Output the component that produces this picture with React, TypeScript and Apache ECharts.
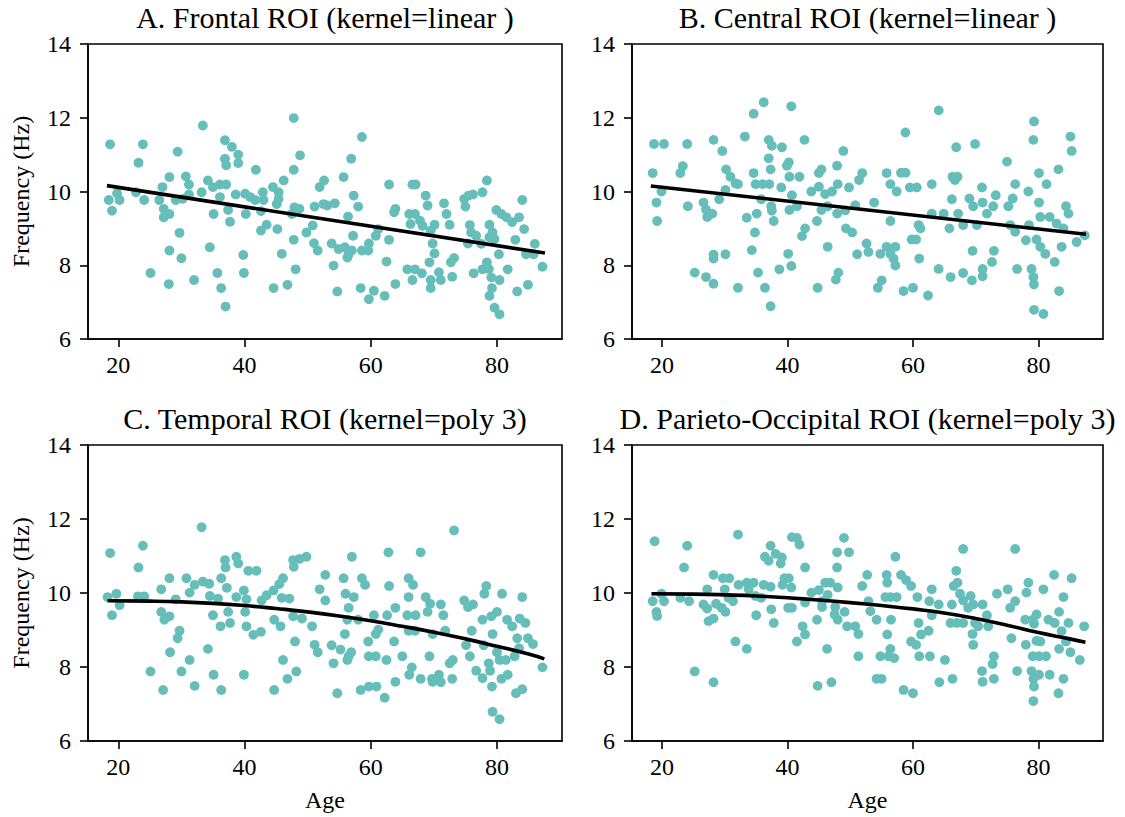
import React, { useEffect, useRef } from 'react';
import * as echarts from 'echarts';

// ---------- data ----------
const panelTitles = [
  'A. Frontal ROI (kernel=linear )',
  'B. Central ROI (kernel=linear )',
  'C. Temporal ROI (kernel=poly 3)',
  'D. Parieto-Occipital ROI (kernel=poly 3)',
];
const xTickValues = [20, 40, 60, 80];
const yTickValues = [6, 8, 10, 12, 14];
const xAxisName = 'Age';
const yAxisName = 'Frequency (Hz)';

const frontalPts: [number, number][] = [
  [18.7,11.28],[23.9,11.28],[23.2,10.78],[33.4,11.79],[29.4,11.08],[47.8,11.99],[36.9,11.39],[38.0,11.21],[39.0,11.0],[36.9,10.89],
  [37.1,10.71],[39.0,10.77],[48.8,10.98],[41.8,10.59],[47.8,10.59],[18.5,9.77],[19.0,9.48],[20.2,9.77],[19.8,9.95],[22.8,9.98],
  [24.1,9.77],[27.0,10.12],[26.5,9.77],[27.2,9.53],[27.2,9.30],[28.1,9.39],[28.1,10.39],[29.1,9.77],[30.7,10.41],[31.2,10.19],
  [30.2,9.80],[31.2,9.92],[33.2,9.98],[34.2,10.30],[35.0,10.12],[36.1,10.19],[37.1,10.19],[36.1,9.85],[35.1,9.39],[37.4,9.50],
  [37.7,9.18],[38.6,9.92],[40.1,9.94],[40.9,9.85],[41.7,9.77],[40.2,9.39],[42.9,9.98],[43.0,9.77],[42.6,9.47],[44.5,10.12],
  [45.4,9.98],[46.2,10.30],[45.1,9.66],[45.4,9.80],[43.5,9.10],[42.6,8.94],[45.2,8.98],[47.9,9.57],[47.5,9.39],[48.7,9.53],
  [50.8,9.08],[49.8,8.89],[51.1,9.59],[51.9,10.12],[52.6,10.30],[52.5,9.66],[47.8,8.69],[51.0,8.60],[51.6,8.40],[29.7,8.88],
  [28.1,8.40],[30.0,8.19],[34.5,8.49],[39.8,8.28],[45.9,8.31],[25.1,7.79],[28.0,7.49],[32.0,7.60],[35.7,7.79],[36.3,7.38],
  [37.0,6.88],[39.9,7.79],[44.6,7.38],[46.8,7.47],[48.1,7.89],
  [53.1,9.62],[54.3,9.68],[55.7,10.39],[56.9,10.89],[58.6,11.48],[57.3,9.89],[58.0,9.59],[56.4,9.32],[53.8,8.59],[54.9,8.44],
  [55.9,8.49],[56.5,8.30],[57.0,8.40],[56.3,8.21],[57.2,8.80],[54.1,7.99],[54.7,7.29],[58.4,7.38],[59.7,7.08],[60.5,7.31],
  [62.2,7.17],[58.6,8.40],[59.6,8.40],[59.7,8.59],[60.8,8.80],[61.2,8.98],[62.9,8.69],[62.5,8.10],[63.9,7.49],[62.9,10.19],
  [63.7,9.44],[63.9,9.53],[66.1,9.39],[66.6,10.19],[67.1,10.19],[67.0,9.39],[66.3,9.12],[67.8,9.21],[68.2,9.07],[68.7,9.89],
  [69.0,9.62],[70.1,9.10],[69.5,8.94],[69.8,8.59],[70.1,8.32],[69.3,8.08],[71.6,9.68],[72.0,9.39],[72.5,9.10],[73.2,8.20],
  [72.7,8.08],[65.8,7.89],[67.0,7.89],[68.1,7.78],[66.6,7.60],[69.5,7.60],[70.8,7.81],[71.1,7.60],[69.5,7.38],[72.9,7.69],
  [74.8,9.80],[75.5,9.89],[76.2,9.92],[75.0,9.59],[75.7,9.09],[75.9,8.89],[76.7,8.80],[75.4,8.59],[77.5,8.58],[77.7,9.98],
  [78.4,10.30],[78.8,9.10],[79.3,8.89],[78.8,8.76],[79.6,8.71],[80.3,8.30],[78.4,8.08],[78.7,7.90],[77.7,7.89],[76.3,7.78],
  [79.1,7.67],[80.4,7.60],[81.7,7.89],[79.2,7.38],[78.8,7.17],[79.6,6.85],[80.4,6.67],[79.9,9.50],[80.7,9.39],[81.5,9.30],
  [82.4,9.17],[83.5,9.30],[84.0,9.77],[84.3,8.98],[82.9,8.69],[83.2,7.29],[84.9,7.47],[86.0,8.58],[84.6,8.30],[87.2,7.96],
  [85.8,8.30],
];

const centralPts: [number, number][] = [
  [18.7,11.29],[20.3,11.29],[24.0,11.29],[28.2,11.40],[29.6,11.10],[33.2,11.49],[34.6,12.11],[36.2,12.42],[40.6,12.31],[37.0,11.40],
  [37.5,11.24],[39.1,11.20],[42.7,11.40],[48.9,11.10],[18.5,10.50],[22.9,10.50],[23.3,10.69],[19.9,10.0],[19.1,9.70],[19.2,9.20],
  [24.1,9.60],[26.6,9.70],[27.0,9.51],[27.4,9.36],[28.0,9.40],[27.2,9.31],[29.1,9.79],[30.1,10.04],[30.2,10.60],[30.9,10.40],
  [31.7,10.22],[32.1,10.20],[34.6,10.50],[34.9,10.20],[36.0,10.20],[37.1,10.20],[37.0,10.90],[37.3,10.60],[35.8,9.79],[37.4,9.60],
  [37.5,9.48],[39.0,10.11],[39.9,10.70],[40.2,10.79],[40.3,10.40],[41.9,10.40],[40.7,9.90],[40.3,9.50],[41.5,9.60],[33.5,9.29],
  [35.1,9.40],[37.8,9.20],[34.8,8.89],[42.8,9.00],[42.3,8.79],[44.7,9.20],[45.4,9.50],[45.0,10.50],[45.4,10.60],[47.9,10.70],
  [43.8,10.0],[45.0,10.13],[46.0,9.93],[47.1,10.0],[48.0,10.20],[46.4,9.60],[47.9,9.40],[49.2,9.49],[49.8,10.11],[50.8,9.63],
  [51.4,10.31],[51.9,10.50],[49.3,9.00],[50.3,8.89],[46.4,8.50],[51.1,8.30],[34.3,8.41],[28.2,8.29],[28.2,8.18],[30.1,8.30],
  [40.1,8.31],[40.6,7.98],[38.7,7.89],[35.3,7.80],[25.2,7.80],[27.0,7.68],[28.2,7.50],[32.1,7.39],[36.4,7.39],[37.3,6.89],
  [44.8,7.39],[47.7,7.61],[48.1,7.80],
  [53.8,9.70],[55.8,10.50],[56.4,10.20],[57.4,10.0],[58.1,10.51],[58.8,10.51],[58.8,11.60],[59.5,10.11],[60.6,10.11],[63.0,10.20],
  [64.1,12.20],[66.9,11.20],[69.9,11.29],[66.3,10.40],[67.1,10.40],[66.7,10.31],[71.0,10.11],[66.2,9.79],[69.0,9.81],[69.6,9.60],
  [71.1,9.70],[73.2,9.90],[72.8,9.60],[75.0,10.81],[76.3,10.20],[75.9,9.81],[75.2,9.60],[78.4,10.0],[80.1,10.50],[81.3,10.20],
  [83.2,10.60],[79.3,11.90],[79.2,11.40],[85.1,11.49],[85.3,11.10],[80.1,9.70],[84.4,9.60],[84.8,9.40],[56.4,9.20],[60.9,9.09],
  [61.2,9.0],[63.0,9.40],[64.9,9.40],[67.2,9.40],[68.0,9.09],[65.8,9.00],[70.2,9.09],[71.8,9.40],[75.5,9.09],[76.3,8.91],
  [78.5,9.09],[80.3,9.31],[81.8,9.31],[82.9,9.13],[84.0,9.00],[86.1,8.63],[87.4,8.81],[59.8,8.70],[60.5,8.70],[52.6,8.59],
  [52.9,8.36],[54.8,8.31],[55.8,8.50],[56.4,8.31],[57.2,8.50],[56.9,8.18],[57.2,7.99],[61.0,8.18],[69.5,8.39],[72.9,8.39],
  [72.6,8.09],[78.0,8.68],[79.7,8.70],[80.3,8.50],[81.1,8.31],[82.6,8.09],[83.7,8.50],[64.1,7.90],[66.0,7.68],[68.0,7.79],
  [69.4,7.59],[71.1,7.90],[71.1,7.70],[76.6,7.90],[78.9,7.90],[79.2,7.68],[79.3,7.48],[54.4,7.39],[55.0,7.59],[58.5,7.30],
  [60.0,7.39],[62.4,7.18],[83.3,7.30],[79.3,6.79],[80.8,6.68],
];

const temporalPts: [number, number][] = [
  [18.7,11.08],[23.9,11.28],[23.2,10.69],[33.2,11.78],[18.3,9.89],[19.7,9.98],[19.0,9.40],[20.2,9.67],[23.1,9.91],[24.1,9.91],
  [26.8,10.10],[28.1,10.40],[26.8,9.49],[27.3,9.28],[28.1,9.37],[29.1,9.83],[30.8,10.40],[31.3,10.01],[32.1,10.22],[33.4,10.31],
  [34.4,10.25],[34.5,9.92],[35.0,9.40],[36.3,10.40],[36.9,10.89],[37.0,10.69],[37.2,10.14],[38.7,10.98],[39.0,10.80],[35.8,9.85],
  [37.4,9.49],[37.7,9.19],[36.2,9.10],[38.7,9.89],[39.9,10.07],[40.1,9.49],[40.3,9.10],[40.6,10.60],[41.9,10.60],[40.3,9.83],
  [41.4,8.87],[42.6,8.95],[42.7,9.80],[43.5,9.94],[44.6,10.07],[46.1,10.40],[45.5,10.24],[44.7,9.28],[45.7,9.10],[45.9,9.87],
  [47.1,9.85],[47.7,10.89],[47.8,10.71],[48.7,10.92],[49.8,10.98],[47.7,9.37],[49.1,9.31],[48.0,8.69],[50.7,9.10],[51.9,10.10],
  [51.1,8.60],[51.6,8.40],[29.4,8.78],[29.7,8.98],[28.2,8.40],[31.3,8.19],[30.0,7.88],[34.2,8.49],[25.1,7.88],[27.1,7.38],
  [32.1,7.49],[35.1,7.79],[36.3,7.38],[39.9,7.79],[44.7,7.38],[46.1,8.19],[46.8,7.68],[48.2,7.88],
  [52.8,10.49],[52.8,9.80],[53.8,8.59],[54.1,8.10],[54.7,7.29],[55.7,10.40],[56.0,9.98],[57.0,10.98],[57.3,9.89],[56.5,9.60],
  [56.3,9.28],[55.9,8.89],[55.2,8.47],[56.5,8.29],[56.9,8.40],[56.3,8.19],[58.0,9.28],[58.6,10.40],[59.1,10.22],[58.4,7.38],
  [59.7,7.47],[60.9,7.47],[62.2,7.17],[59.7,8.29],[60.8,8.29],[59.6,8.69],[60.8,8.89],[61.2,9.01],[60.5,9.40],[62.5,8.19],
  [63.7,8.69],[63.9,7.60],[65.0,8.29],[62.8,11.10],[62.9,10.19],[62.6,9.40],[63.9,9.60],[66.0,10.40],[66.7,10.22],[66.0,9.89],
  [65.8,9.40],[67.1,9.40],[66.0,8.98],[67.0,8.98],[67.9,11.10],[68.7,9.89],[69.4,9.71],[69.0,9.49],[71.1,9.69],[71.5,9.40],
  [69.8,8.89],[71.8,8.98],[69.3,8.29],[73.0,8.19],[72.5,8.10],[66.5,7.99],[66.1,7.79],[67.9,7.68],[69.7,7.68],[69.8,7.60],
  [70.8,7.79],[71.1,7.59],[72.9,7.68],[73.2,11.69],[74.8,9.80],[75.4,9.62],[76.2,9.69],[75.1,8.59],[75.7,8.29],[76.0,8.98],
  [76.7,7.90],[77.7,9.28],[77.9,8.59],[78.0,9.98],[78.3,10.19],[79.1,9.37],[80.0,9.49],[79.3,8.89],[80.0,8.40],[80.4,8.19],
  [81.4,8.19],[78.7,8.10],[78.9,7.90],[77.7,7.70],[79.2,7.47],[81.7,7.79],[80.7,7.68],[80.8,9.98],[81.6,9.28],[82.4,9.10],
  [83.2,8.78],[82.8,8.29],[83.6,9.31],[84.5,9.19],[84.0,9.89],[84.9,8.78],[85.7,8.62],[83.5,8.51],[87.2,7.99],[83.0,7.29],
  [84.0,7.40],[79.3,6.79],[80.4,6.59],
];

const parietoPts: [number, number][] = [
  [18.8,11.40],[24.0,11.28],[23.5,10.69],[32.1,11.58],[18.5,9.78],[19.9,9.98],[20.3,9.78],[19.1,9.49],[19.2,9.38],[22.9,9.87],
  [24.3,9.78],[25.2,7.88],[28.2,7.59],[27.2,10.10],[26.6,9.69],[27.2,9.58],[28.2,10.49],[28.6,9.71],[29.5,9.60],[30.1,9.49],
  [27.4,9.24],[28.2,9.31],[29.7,10.40],[30.7,10.40],[30.0,10.10],[31.3,9.78],[30.6,9.87],[32.2,10.22],[33.5,10.28],[34.6,10.28],
  [33.8,10.10],[34.9,9.92],[35.8,9.87],[36.2,10.22],[37.3,10.17],[37.4,9.56],[36.4,10.98],[37.3,11.28],[37.0,10.87],[38.1,11.06],
  [39.1,10.96],[38.9,10.80],[37.8,9.19],[35.0,9.40],[31.7,8.69],[33.5,8.49],[39.5,10.40],[40.2,10.40],[39.2,10.22],[40.6,10.15],
  [40.1,9.60],[40.7,9.60],[40.7,11.51],[41.5,11.49],[41.9,11.31],[42.8,10.69],[42.8,9.74],[43.8,10.01],[45.0,10.08],[46.0,10.28],
  [46.8,10.28],[45.5,9.78],[45.5,9.62],[44.7,9.28],[46.4,9.95],[47.6,9.62],[48.0,10.15],[47.9,10.69],[47.9,11.10],[49.0,11.49],
  [49.8,11.10],[47.5,9.42],[49.1,9.49],[48.0,9.28],[49.5,9.10],[50.8,9.10],[51.3,8.89],[51.9,10.19],[42.8,8.88],[42.4,9.10],
  [41.5,8.69],[46.3,8.49],[51.3,8.29],[44.8,7.49],[47.0,7.59],
  [52.7,10.49],[52.9,9.78],[53.2,9.51],[54.2,9.28],[54.8,8.29],[54.2,7.68],[55.0,7.68],[55.8,10.49],[55.9,10.28],[55.6,9.89],
  [56.4,9.89],[57.4,9.89],[57.2,10.98],[58.1,10.49],[58.9,10.35],[59.7,10.19],[56.5,9.28],[55.9,8.88],[56.4,8.49],[56.1,8.29],
  [57.0,8.24],[58.5,7.38],[60.0,7.29],[59.7,8.69],[60.5,8.60],[60.9,9.19],[61.3,8.88],[62.5,8.98],[60.7,9.89],[62.6,9.78],
  [63.0,10.10],[63.0,9.40],[64.1,9.69],[61.0,8.29],[62.7,8.29],[65.1,8.19],[64.2,7.59],[66.3,7.68],[66.2,9.69],[66.9,10.60],
  [66.5,10.19],[67.1,10.28],[67.5,9.98],[68.0,11.19],[68.0,9.80],[69.2,9.92],[69.6,9.69],[68.8,9.60],[66.0,9.19],[67.0,9.19],
  [68.0,9.19],[69.9,9.19],[70.4,9.10],[71.1,9.69],[71.8,9.40],[72.0,9.10],[69.5,8.89],[69.6,8.60],[72.9,8.29],[72.7,8.08],
  [71.0,7.89],[71.1,7.60],[72.9,7.68],[73.4,9.98],[75.1,10.10],[76.3,11.19],[76.3,9.78],[75.5,9.60],[75.7,8.78],[76.6,7.89],
  [78.1,10.01],[78.4,10.28],[77.9,9.28],[79.1,9.28],[79.7,9.42],[79.3,9.17],[78.0,8.60],[79.7,8.71],[80.3,8.69],[79.1,8.29],
  [80.1,8.29],[81.2,8.29],[78.9,7.89],[79.2,7.68],[80.1,7.79],[81.8,7.79],[79.3,7.47],[79.2,7.08],[80.8,10.10],[82.5,10.49],
  [81.6,9.28],[82.6,9.19],[83.3,9.49],[84.0,9.89],[85.3,10.40],[84.8,9.19],[83.7,8.97],[83.3,8.49],[84.4,8.69],[85.1,8.40],
  [86.6,8.19],[87.3,9.10],[84.0,7.68],[83.2,7.29],
];

// fitted curves
const fitAgesLinear = [18.2, 87.6];
const fitFrontal = [10.16, 8.33];
const fitCentral = [10.15, 8.84];
const fitAgesPoly = [18.3, 25, 30, 35, 40, 45, 50, 55, 60, 65, 70, 75, 80, 85, 87.5];
const fitTemporal = [9.79, 9.78, 9.76, 9.72, 9.66, 9.58, 9.49, 9.38, 9.25, 9.10, 8.94, 8.76, 8.56, 8.35, 8.22];
const fitParieto = [9.98, 9.97, 9.95, 9.92, 9.87, 9.81, 9.74, 9.66, 9.57, 9.46, 9.31, 9.13, 8.93, 8.76, 8.67];

const panelPoints = [frontalPts, centralPts, temporalPts, parietoPts];
const panelFits: [number[], number[]][] = [
  [fitAgesLinear, fitFrontal],
  [fitAgesLinear, fitCentral],
  [fitAgesPoly, fitTemporal],
  [fitAgesPoly, fitParieto],
];

// ---------- layout ----------
const FONT = '"Liberation Serif", "Times New Roman", "DejaVu Serif", serif';
const DOT = '#66BEBA';
const gridRects = [
  { left: 88, top: 44, width: 474, height: 295 },
  { left: 632, top: 44, width: 471, height: 295 },
  { left: 88, top: 445, width: 474, height: 296 },
  { left: 632, top: 445, width: 471, height: 296 },
];

export default function App() {
  const ref = useRef<HTMLDivElement>(null);
  useEffect(() => {
    if (!ref.current) return;
    const chart = echarts.init(ref.current, null, { renderer: 'svg' });
    const axisLineStyle = { color: '#000', width: 1.6 };
    const option: any = {
      animation: false,
      backgroundColor: '#fff',
      grid: gridRects.map((g) => ({
        ...g,
        show: true,
        borderColor: '#000',
        borderWidth: 1.6,
        backgroundColor: 'transparent',
      })),
      xAxis: gridRects.map((_, i) => ({
        type: 'value',
        gridIndex: i,
        min: 15.2,
        max: 90.3,
        name: i >= 2 ? xAxisName : '',
        nameLocation: 'middle',
        nameGap: 47,
        nameTextStyle: { fontFamily: FONT, fontSize: 24, color: '#000' },
        axisLine: { show: true, onZero: false, lineStyle: axisLineStyle },
        axisTick: { show: true, inside: false, length: 8, customValues: xTickValues, lineStyle: axisLineStyle },
        axisLabel: { customValues: xTickValues, fontFamily: FONT, fontSize: 24, color: '#000', margin: 14 },
        splitLine: { show: false },
      })),
      yAxis: gridRects.map((_, i) => ({
        type: 'value',
        gridIndex: i,
        min: 6,
        max: 14,
        interval: 2,
        name: i % 2 === 0 ? yAxisName : '',
        nameLocation: 'middle',
        nameGap: 55,
        nameRotate: 90,
        nameTextStyle: { fontFamily: FONT, fontSize: 24, color: '#000' },
        axisLine: { show: true, onZero: false, lineStyle: axisLineStyle },
        axisTick: { show: true, inside: false, length: 8, customValues: yTickValues, lineStyle: axisLineStyle },
        axisLabel: { customValues: yTickValues, fontFamily: FONT, fontSize: 24, color: '#000', margin: 17 },
        splitLine: { show: false },
      })),
      series: [
        ...panelPoints.map((pts, i) => ({
          type: 'scatter',
          xAxisIndex: i,
          yAxisIndex: i,
          data: pts,
          symbolSize: 9.8,
          itemStyle: { color: DOT, opacity: 1 },
          z: 2,
        })),
        ...panelFits.map(([ages, vals], i) => ({
          type: 'line',
          xAxisIndex: i,
          yAxisIndex: i,
          data: ages.map((a, k) => [a, vals[k]]),
          showSymbol: false,
          smooth: i >= 2,
          lineStyle: { color: '#000', width: 3.6 },
          z: 3,
        })),
      ],
      graphic: panelTitles.map((t, i) => ({
        type: 'text',
        x: gridRects[i].left + gridRects[i].width / 2,
        y: gridRects[i].top - 27,
        style: {
          text: t,
          font: `30px ${FONT}`,
          fill: '#000',
          textAlign: 'center',
          textVerticalAlign: 'middle',
        },
      })),
    };
    chart.setOption(option);
    return () => chart.dispose();
  }, []);
  return (
    <div
      ref={ref}
      style={{ position: 'absolute', left: 0, top: 0, width: 1125, height: 817, background: '#fff' }}
    />
  );
}
